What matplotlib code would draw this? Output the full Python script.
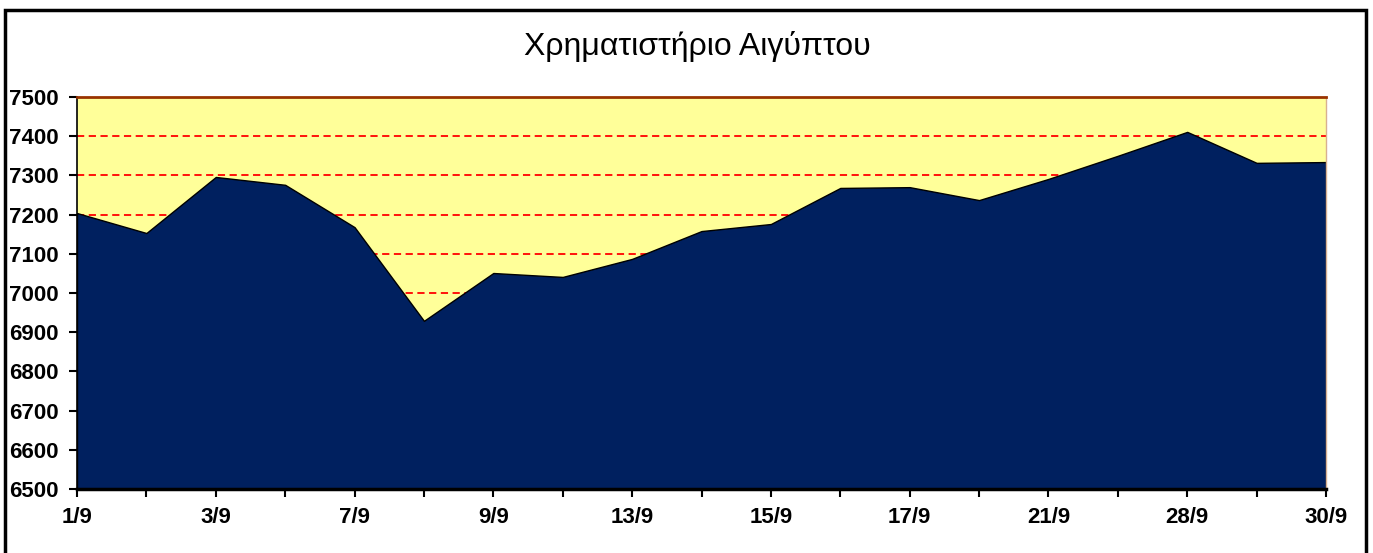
import matplotlib
matplotlib.use("Agg")
import matplotlib.pyplot as plt
from matplotlib.patches import Rectangle
from matplotlib import font_manager

title = "Χρηματιστήριο Αιγύπτου"
categories = ["1/9", "2/9", "3/9", "6/9", "7/9", "8/9", "9/9", "10/9", "13/9", "14/9",
              "15/9", "16/9", "17/9", "20/9", "21/9", "27/9", "28/9", "29/9", "30/9"]
values = [7204, 7153, 7296, 7276, 7168, 6929, 7051, 7041, 7087, 7158,
          7176, 7268, 7270, 7237, 7291, 7350, 7411, 7332, 7334]
tick_labels = ["1/9", "3/9", "7/9", "9/9", "13/9", "15/9", "17/9", "21/9", "28/9", "30/9"]
y_ticks = [6500, 6600, 6700, 6800, 6900, 7000, 7100, 7200, 7300, 7400, 7500]

names = {f.name for f in font_manager.fontManager.ttflist}
title_font = "Liberation Sans Narrow" if "Liberation Sans Narrow" in names else "Liberation Sans"

fig = plt.figure(figsize=(13.73, 5.53), dpi=100)
ax = fig.add_axes([77/1373, 64/553, 1249/1373, 392/553])

x = list(range(len(categories)))
ax.set_facecolor("#FFFF99")
ax.fill_between(x, 6500, values, facecolor="#00205F", edgecolor="black", linewidth=1.0, zorder=3)
for v in y_ticks[1:-1]:
    ax.axhline(v, color="#FF0000", linestyle=(0, (4, 2.5)), linewidth=1.3, zorder=2)

ax.set_xlim(0, len(categories) - 1)
ax.set_ylim(6500, 7500)
ax.set_xticks(x)
ax.set_xticklabels([c if c in tick_labels else "" for c in categories])
ax.set_yticks(y_ticks)
ax.set_yticklabels([str(v) for v in y_ticks])
for lab in ax.get_xticklabels() + ax.get_yticklabels():
    lab.set_fontfamily("Liberation Sans")
    lab.set_fontweight("bold")
    lab.set_fontsize(16)
ax.tick_params(axis="x", direction="out", length=6, width=1.5, pad=7, color="black")
ax.tick_params(axis="y", direction="out", length=6, width=1.5, pad=7, color="black")

ax.spines["top"].set_color("#993300")
ax.spines["top"].set_linewidth(2)
ax.spines["right"].set_color("#D8B090")
ax.spines["right"].set_linewidth(1)
ax.spines["left"].set_color("black")
ax.spines["left"].set_linewidth(1.2)
ax.spines["bottom"].set_color("black")
ax.spines["bottom"].set_linewidth(2.5)
for s in ax.spines.values():
    s.set_zorder(5)

fig.text(697/1373, 1 - 46/553, title, ha="center", va="center",
         fontsize=23, family=[title_font, "DejaVu Sans"])

fig.patches.append(Rectangle((5/1373, -0.01), 1361/1373, 1 - 10/553 + 0.01,
                             transform=fig.transFigure, fill=False,
                             edgecolor="black", linewidth=2.5))

fig.savefig("out.png", dpi=100)
